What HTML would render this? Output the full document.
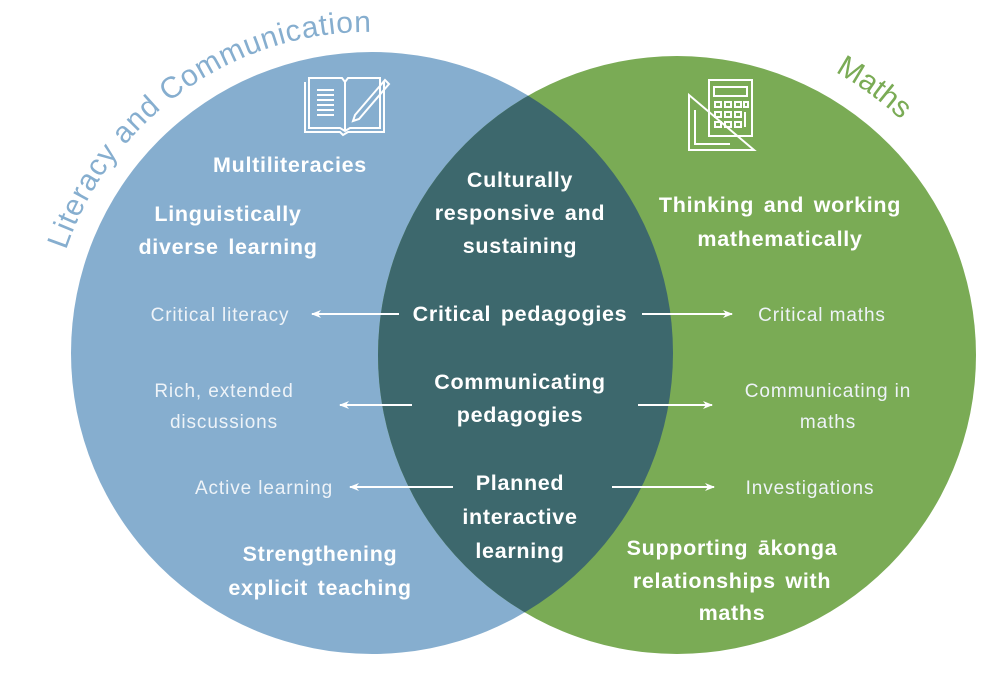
<!DOCTYPE html>
<html><head><meta charset="utf-8"><style>
html,body{margin:0;padding:0;background:#fff;}
svg{display:block;}
.b{font-family:"Liberation Sans",sans-serif;font-weight:bold;font-size:21.5px;fill:#fff;text-anchor:middle;word-spacing:3px;letter-spacing:0.7px;}
.n{font-family:"Liberation Sans",sans-serif;font-size:19px;fill:#eef3f8;text-anchor:middle;letter-spacing:0.9px;}
</style></head><body>
<svg width="1000" height="679" viewBox="0 0 1000 679" xmlns="http://www.w3.org/2000/svg">
<defs>
<clipPath id="lc"><circle cx="372" cy="353" r="301"/></clipPath>
<marker id="ah" markerWidth="10" markerHeight="8" refX="9" refY="4" orient="auto" markerUnits="userSpaceOnUse"><path d="M0,0 L10,4 L0,8 L3,4 Z" fill="#fff"/></marker>
<path id="arcL" d="M 66,250 A 320 320 0 0 1 481,52" fill="none"/>
<path id="arcR" d="M 835,72 A 325 325 0 0 1 960,194" fill="none"/>
</defs>
<circle cx="372" cy="353" r="301" fill="#86aecf"/>
<circle cx="677" cy="355" r="299" fill="#7aab55"/>
<circle cx="677" cy="355" r="299" fill="#3d686d" clip-path="url(#lc)"/>

<text font-family="Liberation Sans, sans-serif" font-size="30" fill="#86aecf" letter-spacing="0.8"><textPath href="#arcL">Literacy and Communication</textPath></text>
<text font-family="Liberation Sans, sans-serif" font-size="30" fill="#7aab55"><textPath href="#arcR">Maths</textPath></text>

<!-- book icon -->
<g fill="none" stroke="#fff" stroke-width="2">
<path d="M305,82 L305,132 L340,132 L343,135 L348,132 L384,132 L384,82"/>
<path d="M309,78 L309,128 L340,128 L345,131 L350,128 L380,128 L380,78 L348,78 L345,82 L342,78 Z"/>
<path d="M345,82 L345,130"/>
<path d="M317,90 H334 M317,95 H334 M317,100 H334 M317,105 H334 M317,110 H334 M317,115 H334"/>
<path d="M355,115 L385,80 L389,84 L359,119 L353,121 Z"/>
</g>
<!-- calculator icon -->
<g fill="none" stroke="#fff" stroke-width="2">
<rect x="709" y="80" width="43" height="56"/>
<rect x="714" y="87" width="33" height="9"/>
<path d="M715,102h6v5h-6z M725,102h6v5h-6z M735,102h6v5h-6z M744,102h4v5h-4z M715,112h6v5h-6z M725,112h6v5h-6z M735,112h6v5h-6z M715,122h6v5h-6z M725,122h6v5h-6z M735,122h6v5h-6z M745,112v15"/>
<path d="M689,95 L689,150 L754,150 Z"/>
<path d="M695,110 L695,144 L730,144"/>
</g>

<!-- left texts -->
<text class="b" x="290" y="172">Multiliteracies</text>
<text class="b" x="228" y="221">Linguistically</text>
<text class="b" x="228" y="254">diverse learning</text>
<text class="n" x="220" y="321">Critical literacy</text>
<text class="n" x="224" y="397">Rich, extended</text>
<text class="n" x="224" y="428">discussions</text>
<text class="n" x="264" y="494">Active learning</text>
<text class="b" x="320" y="561">Strengthening</text>
<text class="b" x="320" y="595">explicit teaching</text>

<!-- middle -->
<text class="b" x="520" y="187">Culturally</text>
<text class="b" x="520" y="220">responsive and</text>
<text class="b" x="520" y="253">sustaining</text>
<text class="b" x="520" y="321">Critical pedagogies</text>
<text class="b" x="520" y="389">Communicating</text>
<text class="b" x="520" y="422">pedagogies</text>
<text class="b" x="520" y="490">Planned</text>
<text class="b" x="520" y="524">interactive</text>
<text class="b" x="520" y="558">learning</text>

<!-- right -->
<text class="b" x="780" y="212">Thinking and working</text>
<text class="b" x="780" y="246">mathematically</text>
<text class="n" x="822" y="321">Critical maths</text>
<text class="n" x="828" y="397">Communicating in</text>
<text class="n" x="828" y="428">maths</text>
<text class="n" x="810" y="494">Investigations</text>
<text class="b" x="732" y="555">Supporting ākonga</text>
<text class="b" x="732" y="588">relationships with</text>
<text class="b" x="732" y="620">maths</text>

<!-- arrows -->
<g stroke="#fff" stroke-width="2" marker-end="url(#ah)">
<line x1="399" y1="314" x2="312" y2="314"/>
<line x1="412" y1="405" x2="340" y2="405"/>
<line x1="453" y1="487" x2="350" y2="487"/>
<line x1="642" y1="314" x2="732" y2="314"/>
<line x1="638" y1="405" x2="712" y2="405"/>
<line x1="612" y1="487" x2="714" y2="487"/>
</g>
</svg>
</body></html>
